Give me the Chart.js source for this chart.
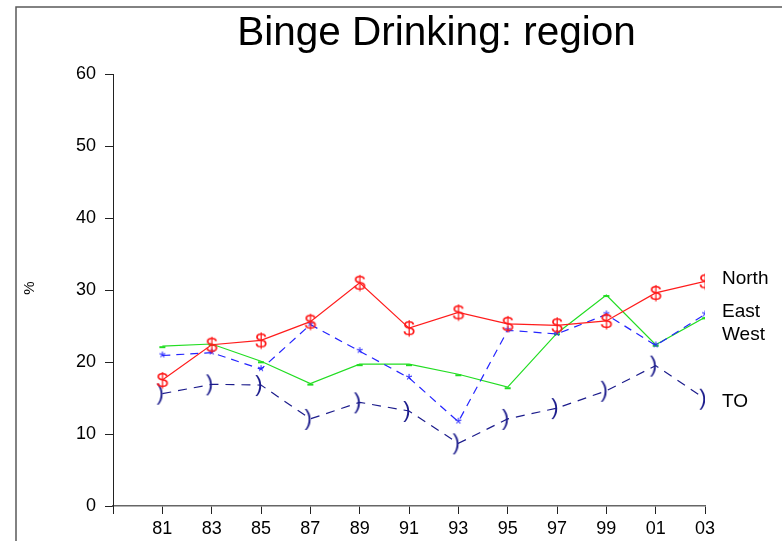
<!DOCTYPE html>
<html><head><meta charset="utf-8">
<script src="https://cdn.jsdelivr.net/npm/chart.js@4"></script>
<style>html,body{margin:0;padding:0;background:#fff}#wrap{width:782px;height:541px}</style>
</head><body><div id="wrap"><canvas id="c" width="782" height="541"></canvas></div>
<script>
const years = [1981,1983,1985,1987,1989,1991,1993,1995,1997,1999,2001,2003];
const north = [17.5,22.4,23.0,25.6,31.0,24.7,26.9,25.3,25.1,25.7,29.6,31.2];
const east  = [20.9,21.3,19.0,25.2,21.5,17.8,11.7,24.4,23.9,26.6,22.3,26.6];
const west  = [22.2,22.5,20.1,17.0,19.7,19.7,18.3,16.5,24.0,29.3,22.4,26.2];
const to    = [15.6,16.9,16.8,12.1,14.4,13.2,8.7,12.1,13.6,16.0,19.5,14.9];
const seriesNames = ['North','East','West','TO'];
const xTickValues = [1979,1981,1983,1985,1987,1989,1991,1993,1995,1997,1999,2001,2003];
const xTickLabels = ['','81','83','85','87','89','91','93','95','97','99','01','03'];
const yTickValues = [0,10,20,30,40,50,60];
const titleText = 'Binge Drinking: region';
const yTitle = '%';

const FONT = "'Liberation Sans', Arial, Helvetica, sans-serif";

function glyph(ch, color, size, w, h, dx, dy) {
  const c = document.createElement('canvas'); c.width = w; c.height = h;
  const g = c.getContext('2d');
  g.fillStyle = color; g.font = size + 'px ' + FONT;
  g.textAlign = 'center'; g.textBaseline = 'middle';
  g.fillText(ch, w/2 + dx, h/2 + dy);
  return c;
}
function dashGlyph(color) {
  const c = document.createElement('canvas'); c.width = 8; c.height = 6;
  const g = c.getContext('2d'); g.fillStyle = color; g.fillRect(1, 3, 6, 2);
  return c;
}

const pts = arr => years.map((y, i) => ({x: y, y: arr[i]}));

const frame = {
  id: 'frame',
  beforeDraw(chart) {
    const c = chart.ctx; c.save();
    c.strokeStyle = '#5a5a5a'; c.lineWidth = 1.5;
    c.beginPath(); c.moveTo(16, 541); c.lineTo(16, 7); c.lineTo(782, 7); c.stroke();
    c.fillStyle = '#000'; c.font = '40.5px ' + FONT; c.textAlign = 'center'; c.textBaseline = 'alphabetic';
    c.fillText(titleText, 436.5, 45);
    c.translate(30, 288); c.rotate(-Math.PI/2);
    c.font = '15px ' + FONT; c.textBaseline = 'middle'; c.fillText(yTitle, 0, 0);
    c.restore();
  }
};
const endLabels = {
  id: 'endLabels',
  afterDatasetsDraw(chart) {
    const c = chart.ctx; c.save();
    c.fillStyle = '#000'; c.font = '19px ' + FONT; c.textAlign = 'left'; c.textBaseline = 'alphabetic';
    const dys = [3, 3, 23, 8];
    chart.data.datasets.forEach((ds, i) => {
      const m = chart.getDatasetMeta(i); const p = m.data[m.data.length - 1];
      c.fillText(seriesNames[i], p.x + 17, p.y + dys[i]);
    });
    c.restore();
  }
};

new Chart(document.getElementById('c'), {
  type: 'line',
  data: { datasets: [
    { label: seriesNames[0], data: pts(north), borderColor: '#ff1c1c', borderWidth: 1.2,
      pointStyle: glyph('$', '#ff1c1c', 21, 16, 26, 0, 1), pointRadius: 10 },
    { label: seriesNames[1], data: pts(east), borderColor: '#2424ff', borderWidth: 1.2, borderDash: [8, 6],
      pointStyle: glyph('*', '#2424ff', 17, 12, 14, 0, 3), pointRadius: 6 },
    { label: seriesNames[2], data: pts(west), borderColor: '#22dd22', borderWidth: 1.2,
      pointStyle: dashGlyph('#22dd22'), pointRadius: 4 },
    { label: seriesNames[3], data: pts(to), borderColor: '#1c1c8c', borderWidth: 1.2, borderDash: [9, 7],
      pointStyle: glyph(')', '#1c1c8c', 22, 14, 28, -2, 0), pointRadius: 10 }
  ]},
  options: {
    responsive: false, animation: false,
    elements: { line: { tension: 0, fill: false } },
    layout: { padding: { top: 74, right: 77, left: 0, bottom: 0 } },
    plugins: { legend: { display: false }, tooltip: { enabled: false }, title: { display: false } },
    scales: {
      x: {
        type: 'linear', min: 1979, max: 2003,
        afterBuildTicks: s => { s.ticks = xTickValues.map(v => ({ value: v })); },
        ticks: { callback: (v, i) => xTickLabels[i], color: '#000', font: { family: FONT, size: 18 },
                 padding: 4, maxRotation: 0, autoSkip: false },
        grid: { drawOnChartArea: false, drawTicks: true, tickLength: 8, color: '#222', lineWidth: 1 },
        border: { color: '#666', width: 1.5 },
        afterFit: s => { s.height = 35; }
      },
      y: {
        min: 0, max: 60,
        afterBuildTicks: s => { s.ticks = yTickValues.map(v => ({ value: v })); },
        ticks: { color: '#000', font: { family: FONT, size: 18 }, padding: 9 },
        grid: { drawOnChartArea: false, drawTicks: true, tickLength: 8, color: '#222', lineWidth: 1 },
        border: { color: '#222', width: 1 },
        afterFit: s => { s.width = 113; }
      }
    }
  },
  plugins: [frame, endLabels]
});
</script></body></html>
